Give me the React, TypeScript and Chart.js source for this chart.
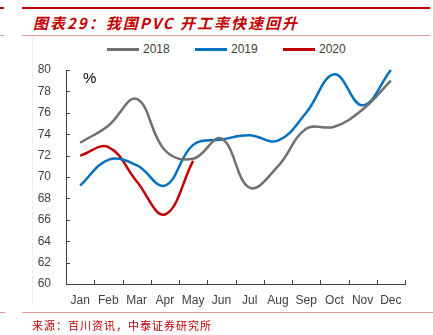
import React, { useEffect, useRef } from "react";
import { Chart, registerables } from "chart.js";

Chart.register(...registerables);

const months = ["Jan", "Feb", "Mar", "Apr", "May", "Jun", "Jul", "Aug", "Sep", "Oct", "Nov", "Dec"];
const yMin = 60;
const yMax = 80;
const yStep = 2;
const s2018 = [73.2, 74.8, 77.3, 72.5, 71.7, 73.6, 69.0, 71.0, 74.5, 74.7, 76.3, 79.0];
const s2019 = [69.2, 71.6, 71.1, 69.2, 73.0, 73.5, 73.9, 73.4, 76.0, 79.6, 76.7, 80.0];
const s2020 = [72.0, 72.8, 69.6, 66.5, 71.5];
const seriesNames = ["2018", "2019", "2020"];
const seriesColors = ["#707070", "#0070C0", "#C00000"];
const unitLabel = "%";
const titleText = "图表29：我国PVC 开工率快速回升";
const sourceText = "来源：百川资讯，中泰证券研究所";

const AXIS = "#404040";
const TEXT = "#404040";
const RED = "#C00000";

const insideTicks = {
  id: "insideTicks",
  afterDraw(chart: any) {
    const { ctx, chartArea, scales } = chart;
    const x = scales.x;
    const y = scales.y;
    ctx.save();
    ctx.strokeStyle = AXIS;
    ctx.lineWidth = 1;
    ctx.beginPath();
    y.ticks.forEach((_t: any, i: number) => {
      const py = Math.round(y.getPixelForTick(i)) + 0.5;
      ctx.moveTo(chartArea.left, py);
      ctx.lineTo(chartArea.left + 4, py);
    });
    for (let k = 0; k <= months.length; k++) {
      const px = Math.round(x.getPixelForValue(k - 0.5)) + 0.5;
      ctx.moveTo(px, chartArea.bottom);
      ctx.lineTo(px, chartArea.bottom - 4);
    }
    ctx.stroke();
    ctx.fillStyle = "#000";
    ctx.font = '15px "Liberation Sans", sans-serif';
    ctx.textBaseline = "middle";
    ctx.textAlign = "left";
    ctx.fillText(unitLabel, chartArea.left + 17, chartArea.top + 9);
    ctx.restore();
  },
};

export default function App() {
  const ref = useRef<HTMLCanvasElement | null>(null);

  useEffect(() => {
    if (!ref.current) return;
    const data = [s2018, s2019, s2020];
    const chart = new Chart(ref.current, {
      type: "line",
      data: {
        labels: months,
        datasets: data.map((d, i) => ({
          label: seriesNames[i],
          data: d,
          borderColor: seriesColors[i],
          backgroundColor: seriesColors[i],
          borderWidth: 2.5,
          pointRadius: 0,
          tension: 0.4,
          fill: false,
          clip: 4,
        })),
      },
      options: {
        animation: false,
        responsive: false,
        maintainAspectRatio: false,
        layout: { padding: { left: 0, right: 28, top: 70, bottom: 0 } },
        plugins: {
          legend: { display: false },
          tooltip: { enabled: false },
        },
        scales: {
          x: {
            offset: true,
            grid: { display: true, drawOnChartArea: false, drawTicks: false, offset: true, color: "transparent" },
            border: { display: true, color: AXIS, width: 1 },
            ticks: {
              color: TEXT,
              padding: 9,
              maxRotation: 0,
              autoSkip: false,
              font: { family: '"Liberation Sans", sans-serif', size: 12 },
            },
            afterFit(scale: any) {
              scale.height = 51;
            },
          },
          y: {
            min: yMin,
            max: yMax,
            grid: { display: true, drawOnChartArea: false, drawTicks: false, color: "transparent" },
            border: { display: true, color: AXIS, width: 1 },
            ticks: {
              stepSize: yStep,
              color: TEXT,
              padding: 15,
              font: { family: '"Liberation Sans", sans-serif', size: 12 },
            },
            afterFit(scale: any) {
              scale.width = 66;
            },
          },
        },
      },
      plugins: [insideTicks],
    });
    return () => chart.destroy();
  }, []);

  const legendX = [107, 195, 283];

  return (
    <div style={{ position: "absolute", left: 0, top: 0, width: 433, height: 335, background: "#fff", overflow: "hidden" }}>
      {/* frame lines */}
      <div style={{ position: "absolute", left: 22, top: 7, width: 408, height: 2, background: RED }} />
      <div style={{ position: "absolute", left: 0, top: 7, width: 4, height: 2, background: RED }} />
      <div style={{ position: "absolute", left: 22, top: 35, width: 408, height: 1, background: "#E39A9A" }} />
      <div style={{ position: "absolute", left: 0, top: 35, width: 4, height: 1, background: "#E39A9A" }} />
      <div style={{ position: "absolute", left: 22, top: 312, width: 411, height: 1, background: "#E39A9A" }} />
      <div style={{ position: "absolute", left: 0, top: 312, width: 5, height: 1, background: "#E39A9A" }} />
      <div style={{ position: "absolute", left: 32, top: 36, width: 1, height: 270, background: "#F0F0F0" }} />
      {/* title */}
      <span
        style={{
          position: "absolute",
          left: 33,
          top: 12,
          lineHeight: "22px",
          fontFamily: '"Noto Sans CJK SC", sans-serif',
          fontWeight: 700,
          fontStyle: "italic",
          fontSize: 15,
          letterSpacing: 2,
          color: RED,
          whiteSpace: "pre",
        }}
      >
        {titleText}
      </span>
      {/* legend */}
      {seriesNames.map((n, i) => (
        <div key={n} style={{ position: "absolute", left: legendX[i], top: 41, height: 16, display: "flex", alignItems: "center" }}>
          <div style={{ width: 32, height: 3, background: seriesColors[i] }} />
          <span style={{ marginLeft: 4, fontFamily: '"Liberation Sans", sans-serif', fontSize: 12, color: TEXT }}>{n}</span>
        </div>
      ))}
      <canvas ref={ref} width={433} height={335} style={{ position: "absolute", left: 0, top: 0, width: 433, height: 335 }} />
      {/* source */}
      <span
        style={{
          position: "absolute",
          left: 32,
          top: 317,
          lineHeight: "16px",
          fontFamily: '"Noto Sans CJK SC", sans-serif',
          fontSize: 11,
          letterSpacing: 1,
          color: RED,
          whiteSpace: "nowrap",
        }}
      >
        {sourceText}
      </span>
    </div>
  );
}
